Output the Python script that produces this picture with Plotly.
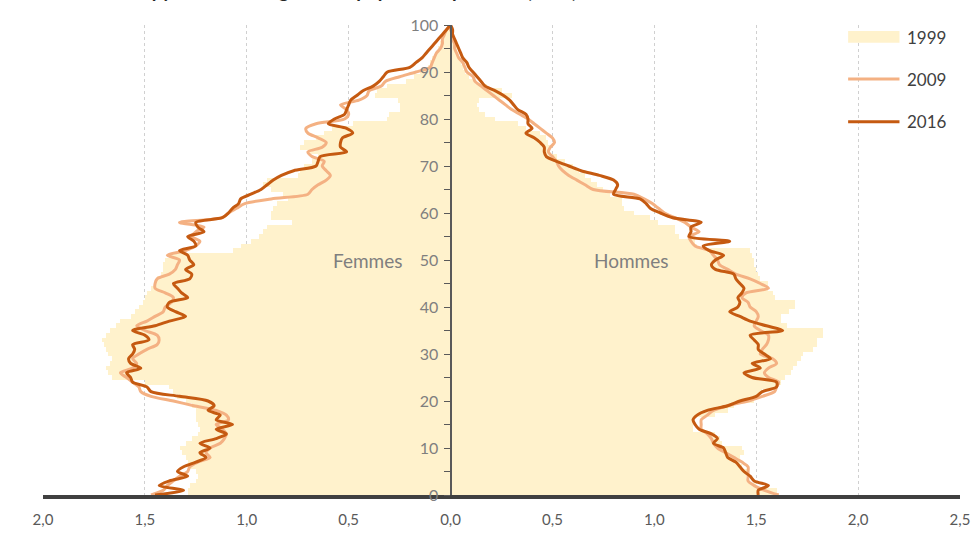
import plotly.graph_objs as go

# Ages 0..100, shares of the population (%) by single year of age
ages = list(range(101))

women_1999 = [
    1.29, 1.29, 1.28, 1.25, 1.24, 1.25, 1.28, 1.29, 1.30, 1.32,
    1.33, 1.30, 1.27, 1.24, 1.23, 1.24, 1.25, 1.25, 1.25, 1.27,
    1.30, 1.34, 1.36, 1.38, 1.50, 1.66, 1.68, 1.69, 1.67, 1.66,
    1.68, 1.69, 1.70, 1.71, 1.69, 1.67, 1.64, 1.62, 1.57, 1.55,
    1.53, 1.51, 1.50, 1.49, 1.47, 1.45, 1.44, 1.42, 1.41, 1.41,
    1.40, 1.38, 1.07, 1.03, 0.98, 0.94, 0.92, 0.90, 0.78, 0.88,
    0.88, 0.87, 0.85, 0.80, 0.82, 0.88, 0.92, 0.90, 0.75, 0.74,
    0.72, 0.68, 0.65, 0.70, 0.74, 0.72, 0.66, 0.62, 0.58, 0.48,
    0.31, 0.30, 0.25, 0.25, 0.26, 0.37, 0.36, 0.31, 0.22, 0.18,
    0.15, 0.11, 0.10, 0.09, 0.07, 0.06, 0.05, 0.04, 0.03, 0.02, 0.01,
]
women_2009 = [
    1.47, 1.41, 1.39, 1.36, 1.33, 1.29, 1.28, 1.24, 1.18, 1.20,
    1.18, 1.13, 1.11, 1.10, 1.12, 1.15, 1.09, 1.10, 1.15, 1.26,
    1.36, 1.47, 1.52, 1.53, 1.56, 1.59, 1.62, 1.56, 1.54, 1.56,
    1.53, 1.49, 1.44, 1.43, 1.44, 1.50, 1.54, 1.49, 1.45, 1.41,
    1.40, 1.37, 1.36, 1.40, 1.45, 1.45, 1.44, 1.38, 1.35, 1.34,
    1.33, 1.39, 1.30, 1.25, 1.23, 1.27, 1.25, 1.21, 1.33, 1.12,
    1.09, 1.05, 1.01, 0.88, 0.70, 0.68, 0.65, 0.61, 0.59, 0.61,
    0.63, 0.62, 0.68, 0.70, 0.63, 0.61, 0.65, 0.70, 0.71, 0.66,
    0.52, 0.50, 0.51, 0.54, 0.45, 0.41, 0.40, 0.34, 0.32, 0.25,
    0.17, 0.10, 0.09, 0.08, 0.07, 0.05, 0.04, 0.04, 0.03, 0.02, 0.00,
]
women_2016 = [
    1.45, 1.31, 1.43, 1.38, 1.29, 1.34, 1.31, 1.25, 1.20, 1.23,
    1.18, 1.23, 1.15, 1.10, 1.15, 1.07, 1.15, 1.13, 1.19, 1.16,
    1.19, 1.33, 1.47, 1.49, 1.56, 1.57, 1.59, 1.52, 1.57, 1.58,
    1.56, 1.55, 1.56, 1.48, 1.50, 1.56, 1.45, 1.38, 1.30, 1.35,
    1.39, 1.38, 1.29, 1.32, 1.34, 1.36, 1.28, 1.27, 1.30, 1.26,
    1.28, 1.29, 1.33, 1.25, 1.26, 1.29, 1.21, 1.24, 1.25, 1.12,
    1.09, 1.07, 1.04, 1.03, 0.98, 0.93, 0.90, 0.87, 0.83, 0.77,
    0.66, 0.65, 0.64, 0.51, 0.54, 0.54, 0.53, 0.48, 0.51, 0.60,
    0.57, 0.52, 0.51, 0.50, 0.49, 0.46, 0.43, 0.38, 0.35, 0.33,
    0.31, 0.20, 0.17, 0.14, 0.12, 0.10, 0.08, 0.06, 0.04, 0.02, 0.00,
]
men_1999 = [
    1.61, 1.60, 1.50, 1.46, 1.45, 1.46, 1.43, 1.42, 1.42, 1.44,
    1.43, 1.33, 1.32, 1.30, 1.19, 1.19, 1.19, 1.30, 1.36, 1.39,
    1.49, 1.51, 1.53, 1.60, 1.62, 1.64, 1.67, 1.68, 1.70, 1.72,
    1.73, 1.78, 1.80, 1.80, 1.83, 1.83, 1.65, 1.62, 1.62, 1.66,
    1.69, 1.69, 1.59, 1.58, 1.56, 1.56, 1.52, 1.51, 1.50, 1.49,
    1.49, 1.48, 1.47, 1.21, 1.20, 1.12, 1.10, 1.10, 1.02, 0.98,
    0.90, 0.85, 0.84, 0.84, 0.78, 0.75, 0.72, 0.69, 0.66, 0.63,
    0.60, 0.56, 0.52, 0.49, 0.49, 0.48, 0.47, 0.44, 0.37, 0.33,
    0.22, 0.17, 0.14, 0.13, 0.14, 0.30, 0.25, 0.18, 0.12, 0.09,
    0.07, 0.06, 0.05, 0.04, 0.03, 0.03, 0.02, 0.01, 0.01, 0.00, 0.00,
]
men_2009 = [
    1.61, 1.54, 1.49, 1.46, 1.46, 1.46, 1.46, 1.43, 1.39, 1.35,
    1.31, 1.29, 1.28, 1.26, 1.23, 1.23, 1.23, 1.26, 1.29, 1.36,
    1.46, 1.53, 1.59, 1.60, 1.61, 1.56, 1.54, 1.56, 1.60, 1.58,
    1.52, 1.53, 1.55, 1.56, 1.56, 1.52, 1.49, 1.50, 1.51, 1.50,
    1.47, 1.46, 1.43, 1.45, 1.56, 1.52, 1.47, 1.40, 1.36, 1.32,
    1.31, 1.29, 1.27, 1.20, 1.18, 1.17, 1.22, 1.18, 1.15, 1.10,
    1.05, 1.02, 0.99, 0.95, 0.90, 0.70, 0.66, 0.62, 0.58, 0.55,
    0.53, 0.52, 0.50, 0.48, 0.49, 0.51, 0.50, 0.47, 0.44, 0.41,
    0.38, 0.34, 0.30, 0.27, 0.24, 0.21, 0.18, 0.15, 0.12, 0.11,
    0.08, 0.07, 0.06, 0.04, 0.03, 0.02, 0.02, 0.01, 0.01, 0.00, 0.00,
]
men_2016 = [
    1.51, 1.51, 1.56, 1.49, 1.47, 1.44, 1.42, 1.40, 1.36, 1.35,
    1.34, 1.29, 1.31, 1.28, 1.22, 1.20, 1.19, 1.21, 1.26, 1.36,
    1.42, 1.50, 1.53, 1.60, 1.60, 1.48, 1.44, 1.52, 1.48, 1.57,
    1.54, 1.51, 1.51, 1.49, 1.47, 1.63, 1.55, 1.47, 1.42, 1.37,
    1.41, 1.42, 1.41, 1.43, 1.44, 1.42, 1.40, 1.39, 1.30, 1.28,
    1.30, 1.34, 1.27, 1.24, 1.37, 1.17, 1.18, 1.18, 1.23, 1.09,
    1.03, 0.98, 0.96, 0.93, 0.80, 0.81, 0.82, 0.80, 0.73, 0.64,
    0.58, 0.52, 0.47, 0.46, 0.46, 0.44, 0.41, 0.37, 0.40, 0.38,
    0.38, 0.37, 0.33, 0.31, 0.29, 0.26, 0.22, 0.17, 0.15, 0.13,
    0.11, 0.09, 0.08, 0.06, 0.05, 0.04, 0.03, 0.02, 0.01, 0.01, 0.00,
]

x_ticks = [-2.0, -1.5, -1.0, -0.5, 0.0, 0.5, 1.0, 1.5, 2.0, 2.5]
x_labels = ["2,0", "1,5", "1,0", "0,5", "0,0", "0,5", "1,0", "1,5", "2,0", "2,5"]

C1999 = "#FFF2CC"
C2009 = "#F4B183"
C2016 = "#C55A11"
FONT = "Lato"


def neg(values):
    return [-v for v in values]


fig = go.Figure()

# 1999: bars
fig.add_trace(go.Bar(y=ages, x=neg(women_1999), orientation="h", width=1,
                     marker=dict(color=C1999, line=dict(width=0)), name="1999"))
fig.add_trace(go.Bar(y=ages, x=men_1999, orientation="h", width=1,
                     marker=dict(color=C1999, line=dict(width=0)), name="1999"))

# 2009 and 2016: smoothed lines (women on the negative side)
for vals, col, nm, left in [(women_2009, C2009, "2009", True), (men_2009, C2009, "2009", False),
                            (women_2016, C2016, "2016", True), (men_2016, C2016, "2016", False)]:
    xs = neg(vals) if left else vals
    fig.add_trace(go.Scatter(x=xs, y=ages, mode="lines", name=nm,
                             line=dict(color=col, width=3, shape="spline", smoothing=0.8)))

# legend drawn by hand (long symbols as in the original)
shapes = [
    dict(type="rect", xref="paper", yref="paper", x0=0.87, x1=1.0, y0=0.735, y1=1.0,
         fillcolor="white", line=dict(width=0), layer="between"),
    dict(type="rect", xref="paper", yref="paper", x0=0.878, x1=0.934, y0=0.962, y1=0.987,
         fillcolor=C1999, line=dict(width=0), layer="above"),
    dict(type="line", xref="paper", yref="paper", x0=0.878, x1=0.934, y0=0.885, y1=0.885,
         line=dict(color=C2009, width=3), layer="above"),
    dict(type="line", xref="paper", yref="paper", x0=0.878, x1=0.934, y0=0.794, y1=0.794,
         line=dict(color=C2016, width=3), layer="above"),
]

annotations = [
    dict(text="Femmes", x=-0.41, y=50, xref="x", yref="y", showarrow=False,
         font=dict(size=19, color="#7F7F7F", family=FONT)),
    dict(text="Hommes", x=0.89, y=50, xref="x", yref="y", showarrow=False,
         font=dict(size=19, color="#7F7F7F", family=FONT)),
    dict(text="Âge", x=0.42, y=100.6, xref="x", yref="y", showarrow=False,
         font=dict(size=15, color="#595959", family=FONT)),
    # title: only its lowest pixels are inside the picture, as in the original
    dict(text="<b>Évolution de la pyramide des âges de la population par sexe (en %)</b>",
         x=-0.025, y=1.045, xref="paper", yref="paper", xanchor="left", yanchor="bottom",
         showarrow=False, font=dict(size=19, color="#262626", family=FONT)),
]
for label, ypos in [("1999", 0.974), ("2009", 0.885), ("2016", 0.794)]:
    annotations.append(dict(text=label, x=0.94, y=ypos, xref="paper", yref="paper",
                            xanchor="left", yanchor="middle", showarrow=False,
                            font=dict(size=17, color="#404040", family=FONT)))

fig.update_layout(
    width=974,
    height=535,
    margin=dict(l=43, r=14, t=25, b=40),
    paper_bgcolor="white",
    plot_bgcolor="white",
    barmode="overlay",
    bargap=0,
    showlegend=False,
    font=dict(family=FONT),
    shapes=shapes,
    annotations=annotations,
    xaxis=dict(
        range=[-2.0, 2.5],
        tickvals=x_ticks,
        ticktext=x_labels,
        tickfont=dict(size=15, color="#595959"),
        ticklabelstandoff=8,
        showgrid=True,
        gridcolor="#D0D0D0",
        griddash="dot",
        gridwidth=1,
        zeroline=False,
        showline=True,
        linecolor="#404040",
        linewidth=4,
        ticks="",
        automargin=False,
    ),
    yaxis=dict(
        range=[0, 100],
        anchor="free",
        position=2.0 / 4.5,
        side="left",
        dtick=10,
        tick0=0,
        ticks="outside",
        ticklen=6,
        tickcolor="#595959",
        tickfont=dict(size=16, color="#7F7F7F"),
        ticklabelstandoff=2,
        minor=dict(dtick=5, ticks="outside", ticklen=6, tickcolor="#595959"),
        showgrid=False,
        zeroline=False,
        showline=True,
        linecolor="#595959",
        linewidth=2,
        automargin=False,
    ),
)

# drop the browser's default body margin so the figure fills the window exactly
fig.write_html("out.html", config={"displayModeBar": False},
               post_script="document.body.style.margin = '0';")
